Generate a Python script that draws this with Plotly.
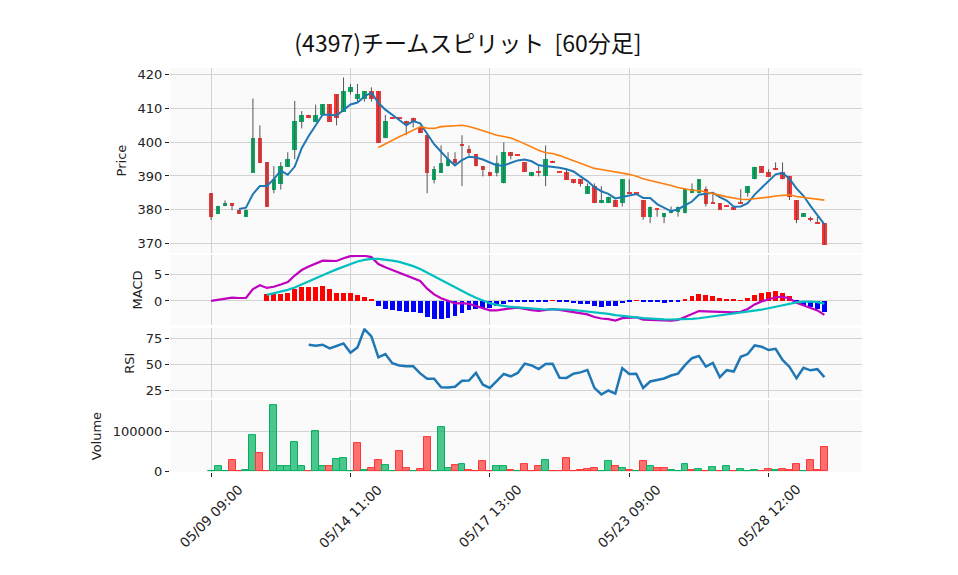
import plotly.graph_objects as go
from plotly.subplots import make_subplots
import pandas as pd

title_text = "(4397)チームスピリット  [60分足]"

days = ["05/09", "05/10", "05/13", "05/14", "05/15", "05/16", "05/17", "05/20",
        "05/21", "05/22", "05/23", "05/24", "05/27", "05/28", "05/29"]
hours = ["09:00", "10:00", "11:00", "12:00", "13:00", "14:00"]
missing_bars = ["05/23 10:00"]
bar_times = [f"{d} {h}" for d in days for h in hours if f"{d} {h}" not in missing_bars]

opens = [385.0, 378.9, 381.1, 382.1, 380.1, 378.0, 391.0, 401.2, 394.1, 386.0,
         387.7, 392.7, 397.7, 406.0, 408.0, 406.0, 408.0, 411.1, 414.1, 408.9,
         414.8, 412.8, 412.8, 415.0, 415.0, 401.1, 407.1, 407.0, 406.3, 407.2,
         404.5, 402.0, 388.9, 391.0, 392.8, 394.9, 399.1, 398.0, 396.4, 392.9,
         391.2, 391.0, 387.8, 397.0, 396.3, 394.0, 389.9, 391.15, 389.9, 394.1,
         391.2, 391.2, 389.0, 389.0, 384.8, 387.0, 382.0, 382.0, 383.0, 382.0,
         385.0, 384.8, 382.9, 378.0, 380.1, 378.0, 379.0, 379.5, 379.0, 384.9,
         384.9, 386.1, 382.1, 382.0, 381.1, 381.0, 382.1, 384.9, 389.0, 392.9,
         391.2, 392.1, 391.2, 390.0, 382.9, 378.0, 377.2, 376.2, 376.1]
highs = [385.0, 381.2, 382.8, 382.1, 380.1, 380.1, 412.8, 404.9, 394.1, 392.9,
         394.1, 397.0, 412.1, 409.1, 408.0, 411.0, 411.1, 411.1, 414.1, 419.0,
         417.1, 417.1, 415.0, 416.1, 415.0, 408.0, 407.1, 407.0, 406.3, 407.2,
         404.5, 402.0, 392.9, 399.0, 397.0, 397.0, 402.0, 399.0, 396.4, 392.9,
         391.2, 396.0, 399.9, 397.0, 396.3, 394.0, 391.2, 392.9, 399.0, 394.5,
         391.2, 392.0, 389.0, 389.0, 387.8, 387.8, 387.0, 383.9, 383.0, 389.0,
         389.0, 384.8, 382.9, 381.0, 380.1, 379.0, 381.0, 381.0, 386.2, 387.8,
         389.0, 386.9, 384.9, 382.0, 381.1, 381.0, 386.1, 386.9, 392.7, 392.9,
         392.0, 394.0, 394.0, 390.0, 382.9, 379.0, 378.0, 378.0, 376.1]
lows = [377.0, 378.9, 381.1, 379.9, 378.9, 378.0, 391.0, 393.9, 381.0, 384.9,
        386.0, 392.7, 394.9, 404.0, 407.0, 406.0, 408.0, 406.0, 404.9, 408.9,
        414.0, 411.9, 411.9, 411.9, 399.8, 401.1, 406.9, 406.8, 402.0, 404.3,
        402.7, 384.9, 387.8, 391.0, 392.8, 392.9, 387.0, 396.0, 392.8, 389.9,
        389.9, 389.9, 387.8, 394.9, 396.1, 391.3, 389.9, 389.9, 387.0, 393.9,
        391.0, 388.9, 387.8, 386.9, 384.8, 382.0, 382.0, 382.0, 381.0, 381.0,
        384.8, 384.8, 377.1, 376.1, 378.0, 376.1, 379.0, 378.0, 379.0, 384.9,
        384.9, 381.0, 382.0, 380.0, 380.9, 380.0, 381.9, 383.9, 389.0, 391.0,
        389.8, 391.9, 389.0, 382.9, 376.1, 378.0, 376.6, 376.0, 369.7]
closes = [378.0, 381.2, 382.1, 381.1, 378.9, 380.1, 401.2, 393.9, 381.0, 389.1,
          392.8, 394.9, 406.1, 408.0, 407.0, 408.0, 411.1, 406.0, 407.0, 415.0,
          416.1, 414.0, 415.0, 412.8, 399.8, 406.1, 406.9, 406.8, 405.0, 406.0,
          402.7, 391.0, 392.0, 393.9, 394.9, 393.8, 398.9, 396.9, 392.8, 391.9,
          389.9, 393.9, 397.0, 396.0, 396.1, 391.3, 391.2, 391.05, 394.9, 394.0,
          391.0, 388.9, 387.8, 387.7, 387.0, 382.0, 383.0, 383.9, 381.0, 389.0,
          384.8, 384.8, 378.0, 381.0, 380.0, 379.0, 380.0, 381.0, 386.2, 386.1,
          389.0, 381.8, 382.0, 380.0, 381.0, 380.0, 382.0, 386.9, 392.7, 391.0,
          389.8, 392.0, 389.0, 383.9, 376.9, 379.0, 377.1, 376.1, 369.7]
volumes = [0, 13600, 0, 27600, 1200, 2900, 90100, 44900, 0, 164000,
           13600, 13600, 72800, 13600, 0, 100000, 13600, 13600, 30900, 33400,
           0, 69500, 3700, 8600, 27600, 16000, 0, 49800, 8600, 1200,
           6200, 85300, 0, 109000, 8600, 15200, 18500, 3700, 0, 25900,
           1200, 13600, 13600, 3700, 0, 18500, 1200, 13600, 28400, 1200,
           0, 33300, 1200, 3700, 6200, 8600, 0, 25900, 13600, 8600,
           3700, 0, 25100, 13600, 8600, 8600, 3700, 0, 18500, 3700,
           6200, 0, 11100, 0, 13600, 1200, 6200, 1200, 3700, 0,
           6200, 3700, 6200, 3700, 18500, 0, 28400, 3700, 60500]

tick_labels = ["05/09 09:00", "05/14 11:00", "05/17 13:00", "05/23 09:00", "05/28 12:00"]
price_ticks = [370, 380, 390, 400, 410, 420]
macd_ticks = [0, 5]
rsi_ticks = [25, 50, 75]
volume_ticks = [0, 100000]

UP = "#00b060"
DOWN = "#ff3333"
UP_V = "rgba(0,176,96,0.7)"
DOWN_V = "rgba(255,51,51,0.7)"
FONT = "DejaVu Sans"

df = pd.DataFrame({"o": opens, "h": highs, "l": lows, "c": closes, "v": volumes}, index=bar_times)
c = df["c"]
ma5 = c.rolling(5).mean()
ma25 = c.rolling(25).mean()
ema12 = c.ewm(span=12, adjust=False).mean()
ema26 = c.ewm(span=26, adjust=False).mean()
macd = ema12 - ema26
signal = macd.rolling(9).mean()
hist = macd - signal
d = c.diff()
gain = d.clip(lower=0).rolling(14).mean()
loss = (-d.clip(upper=0)).rolling(14).mean()
rsi = 100 * gain / (gain + loss)

fig = make_subplots(rows=4, cols=1, shared_xaxes=True)

# wicks
wx, wy = [], []
for t, hi, lo in zip(bar_times, highs, lows):
    wx += [t, t, None]
    wy += [hi, lo, None]
fig.add_trace(go.Scatter(x=wx, y=wy, mode="lines", line=dict(color="#555555", width=1),
                         hoverinfo="skip", showlegend=False), row=1, col=1)

# bodies
body_base = [min(o, cl) for o, cl in zip(opens, closes)]
body_h = [max(abs(cl - o), 0.3) for o, cl in zip(opens, closes)]
body_col = [UP if cl > o else DOWN for o, cl in zip(opens, closes)]
fig.add_trace(go.Bar(x=bar_times, y=body_h, base=body_base, width=0.67,
                     marker=dict(color=body_col, line=dict(width=0)),
                     showlegend=False), row=1, col=1)
fig.add_trace(go.Scatter(x=bar_times, y=ma5, mode="lines", line=dict(color="#1f77b4", width=2),
                         showlegend=False), row=1, col=1)
fig.add_trace(go.Scatter(x=bar_times, y=ma25, mode="lines", line=dict(color="#ff7f0e", width=1.6),
                         showlegend=False), row=1, col=1)

# MACD
hist_col = ["#ff0000" if h >= 0 else "#0000ff" for h in hist.fillna(0)]
fig.add_trace(go.Bar(x=bar_times, y=hist, width=0.7, marker=dict(color=hist_col, line=dict(width=0)),
                     showlegend=False), row=2, col=1)
fig.add_trace(go.Scatter(x=bar_times, y=macd, mode="lines", line=dict(color="#bf00bf", width=2.2),
                         showlegend=False), row=2, col=1)
fig.add_trace(go.Scatter(x=bar_times, y=signal, mode="lines", line=dict(color="#00bfbf", width=2.2),
                         showlegend=False), row=2, col=1)

# RSI
fig.add_trace(go.Scatter(x=bar_times, y=rsi, mode="lines", line=dict(color="#1f77b4", width=2.5),
                         showlegend=False), row=3, col=1)

# Volume
prev = [None] + closes[:-1]
vfill = [UP_V if (p is None or cl >= p) else DOWN_V for p, cl in zip(prev, closes)]
vline = [UP if (p is None or cl >= p) else DOWN for p, cl in zip(prev, closes)]
fig.add_trace(go.Bar(x=bar_times, y=volumes, width=1.0,
                     marker=dict(color=vfill, line=dict(color=vline, width=1)),
                     showlegend=False), row=4, col=1)

grid = "#d2d2d2"
fig.update_xaxes(type="category", categoryorder="array", categoryarray=bar_times,
                 range=[-5.9, 93.4], tickvals=tick_labels, showgrid=True, gridcolor=grid,
                 gridwidth=1.2, zeroline=False, showline=False, showticklabels=False,
                 automargin=False, rangeslider=dict(visible=False))
fig.update_xaxes(ticks="outside", ticklen=4, tickcolor="#222", row=4, col=1)

yax = dict(showgrid=True, gridcolor=grid, gridwidth=1.2, zeroline=False, ticks="outside",
           ticklen=4, tickcolor="#222", tickfont=dict(family=FONT, size=13, color="#222"),
           title_font=dict(family=FONT, size=13, color="#222"), title_standoff=8,
           automargin=False)
fig.update_yaxes(**yax)
fig.update_yaxes(domain=[0.542, 1.0], range=[367.3, 421.8], tickvals=price_ticks,
                 title_text="Price", row=1, col=1)
fig.update_yaxes(domain=[0.364, 0.537], range=[-4.6, 8.8], tickvals=macd_ticks,
                 title_text="MACD", row=2, col=1)
fig.update_yaxes(domain=[0.183, 0.356], range=[17.3, 84.6], tickvals=rsi_ticks,
                 title_text="RSI", row=3, col=1)
fig.update_yaxes(domain=[0.0, 0.178], range=[-1200, 176500], tickvals=volume_ticks,
                 tickformat="d", title_text="Volume", row=4, col=1)

# rotated x tick labels centred on their ticks
for lab in tick_labels:
    fig.add_annotation(x=lab, xref="x4", y=-0.109, yref="paper", text=lab, textangle=-45,
                       showarrow=False, xanchor="center", yanchor="middle",
                       font=dict(family=FONT, size=13.5, color="#222"))

# the page body has an 8px margin, so the figure is 8px smaller and margins shifted
W, H = 950, 567
fig.update_layout(
    width=W, height=H,
    margin=dict(l=162, r=96, t=60, b=103),
    paper_bgcolor="white", plot_bgcolor="#fafafa",
    barmode="overlay", bargap=0, showlegend=False,
    title=dict(text=title_text, x=460 / W, xref="container", y=1 - 36 / H, yref="container",
               xanchor="center", yanchor="middle",
               font=dict(family="Noto Sans CJK JP", size=23, color="#111")),
)

fig.write_html("out.html")
